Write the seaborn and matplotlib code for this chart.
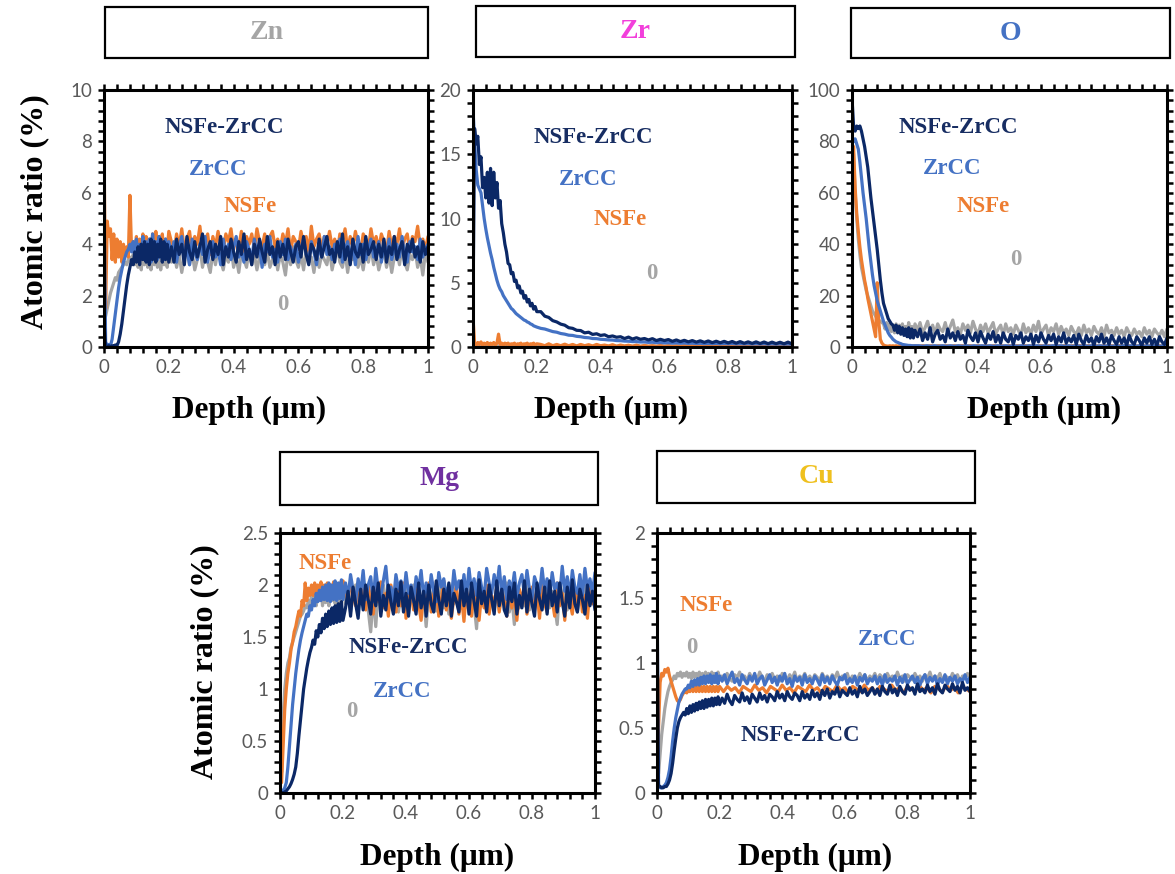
import sys
import numpy as np
import pandas as pd
import matplotlib
matplotlib.use("Agg")
import matplotlib.pyplot as plt
import seaborn as sns
from matplotlib.patches import Rectangle
from matplotlib.ticker import MultipleLocator, FuncFormatter

# ---------------- data ----------------
# near-surface depths (um), common to every series
DEPTH_NEAR = [0.000, 0.005, 0.010, 0.015, 0.020, 0.025, 0.030, 0.035, 0.040, 0.045, 0.050,
              0.055, 0.060, 0.065, 0.070, 0.075, 0.080, 0.085, 0.090, 0.095, 0.100,
              0.105, 0.110, 0.115, 0.120, 0.125, 0.130, 0.135, 0.140, 0.145, 0.150,
              0.155, 0.160, 0.165, 0.170, 0.175, 0.180, 0.185, 0.190, 0.195, 0.200]
# deeper part, sampled coarsely (smooth series) ...
DEPTH_TAIL_COARSE = [0.2125, 0.225, 0.2375, 0.250, 0.2625, 0.275, 0.2875, 0.300, 0.3125, 0.325, 0.3375, 0.350, 0.3625, 0.375, 0.3875, 0.400,
                     0.4125, 0.425, 0.4375, 0.450, 0.4625, 0.475, 0.4875, 0.500, 0.5125, 0.525, 0.5375, 0.550, 0.5625, 0.575, 0.5875, 0.600,
                     0.6125, 0.625, 0.6375, 0.650, 0.6625, 0.675, 0.6875, 0.700, 0.7125, 0.725, 0.7375, 0.750, 0.7625, 0.775, 0.7875, 0.800,
                     0.8125, 0.825, 0.8375, 0.850, 0.8625, 0.875, 0.8875, 0.900, 0.9125, 0.925, 0.9375, 0.950, 0.9625, 0.975, 0.9875, 1.000]
# ... or finely (noisy series)
DEPTH_TAIL_FINE = [0.208, 0.216, 0.224, 0.232, 0.240, 0.248, 0.256, 0.264, 0.272, 0.280, 0.288, 0.296, 0.304, 0.312, 0.320, 0.328, 0.336, 0.344, 0.352, 0.360,
                   0.368, 0.376, 0.384, 0.392, 0.400, 0.408, 0.416, 0.424, 0.432, 0.440, 0.448, 0.456, 0.464, 0.472, 0.480, 0.488, 0.496, 0.504, 0.512, 0.520,
                   0.528, 0.536, 0.544, 0.552, 0.560, 0.568, 0.576, 0.584, 0.592, 0.600, 0.608, 0.616, 0.624, 0.632, 0.640, 0.648, 0.656, 0.664, 0.672, 0.680,
                   0.688, 0.696, 0.704, 0.712, 0.720, 0.728, 0.736, 0.744, 0.752, 0.760, 0.768, 0.776, 0.784, 0.792, 0.800, 0.808, 0.816, 0.824, 0.832, 0.840,
                   0.848, 0.856, 0.864, 0.872, 0.880, 0.888, 0.896, 0.904, 0.912, 0.920, 0.928, 0.936, 0.944, 0.952, 0.960, 0.968, 0.976, 0.984, 0.992, 1.000]

SERIES = ["0", "NSFe", "ZrCC", "NSFe-ZrCC"]
ELEMENTS = ["Zn", "Zr", "O", "Mg", "Cu"]

# ---- Zn (fine tail) ----
zn_0 = [2.0, 1.2, 1.5, 1.8, 2.1, 2.3, 2.5, 2.7, 2.6, 2.9, 3.0,
        3.1, 3.2, 3.3, 3.2, 3.4, 3.5, 3.3, 3.6, 3.2, 3.5,
        3.1, 3.6, 3.0, 3.7, 3.2, 3.8, 3.1, 3.6, 3.0, 3.8,
        3.2, 3.7, 3.1, 3.9, 3.0, 3.6, 3.2, 3.8, 3.1, 3.7,
        3.3, 3.8, 3.1, 3.6, 2.9, 3.5, 3.8, 3.2, 3.7, 3.0, 3.4, 3.9, 3.1, 3.6, 3.3, 2.9, 3.7, 3.2, 3.8, 3.4,
        3.0, 3.6, 3.3, 3.9, 3.1, 3.5, 2.9, 3.7, 3.4, 3.1, 3.8, 3.2, 3.6, 3.0, 3.5, 3.9, 3.2, 3.7, 3.1, 3.4,
        3.8, 3.0, 3.6, 3.3, 2.8, 3.7, 3.2, 3.9, 3.4, 3.1, 3.6, 3.0, 3.8, 3.3, 3.5, 2.9, 3.7, 3.1, 3.6, 3.4,
        3.2, 3.8, 3.0, 3.5, 3.9, 3.3, 3.1, 3.7, 2.9, 3.6, 3.4, 3.8, 3.1, 3.5, 3.0, 3.7, 3.3, 3.9, 3.2, 3.6,
        3.0, 3.4, 3.8, 3.1, 3.6, 2.9, 3.5, 3.7, 3.2, 3.9, 3.3, 3.0, 3.6, 3.4, 3.8, 3.1, 3.5, 2.8, 3.7, 3.3]
zn_nsfe = [8.0, 1.5, 4.9, 4.3, 4.6, 3.4, 4.4, 3.3, 4.2, 3.5, 4.1,
           3.3, 4.0, 3.6, 3.9, 3.5, 5.9, 3.8, 4.1, 3.7, 4.3,
           3.6, 4.2, 3.7, 4.4, 3.6, 4.3, 3.8, 4.2, 3.6, 4.4,
           3.7, 4.5, 3.8, 4.3, 3.6, 4.4, 3.7, 4.2, 3.8, 4.5,
           4.1, 3.7, 4.4, 3.9, 4.6, 3.8, 4.2, 4.5, 3.7, 4.3, 4.0, 4.7, 3.8, 4.1, 4.4, 3.6, 4.3, 3.9, 4.5, 4.0,
           3.7, 4.4, 4.1, 4.6, 3.8, 4.2, 3.9, 4.5, 3.7, 4.3, 4.0, 4.4, 3.8, 4.6, 4.1, 3.9, 4.4, 3.7, 4.3, 4.5,
           3.9, 4.2, 3.8, 4.4, 4.0, 4.6, 3.7, 4.3, 4.1, 3.8, 4.5, 4.0, 4.3, 3.7, 4.7, 3.9, 4.2, 4.4, 3.8, 4.3,
           4.0, 4.5, 3.9, 4.2, 3.7, 4.4, 4.1, 4.6, 3.8, 4.3, 3.9, 4.5, 4.0, 3.7, 4.4, 4.2, 3.8, 4.6, 4.0, 4.3,
           3.8, 4.4, 4.1, 3.7, 4.5, 3.9, 4.3, 4.0, 4.6, 3.8, 4.2, 4.4, 3.7, 4.3, 4.1, 4.7, 3.9, 4.2, 3.8, 4.3]
zn_zrcc = [5.8, 0.2, 0.05, 0.1, 0.05, 0.3, 0.8, 1.3, 1.8, 2.3, 2.7,
           3.0, 3.3, 3.5, 3.7, 3.8, 4.0, 3.7, 4.1, 3.5, 4.2,
           3.4, 4.0, 3.5, 4.3, 3.4, 4.1, 3.5, 4.2, 3.3, 4.4,
           3.5, 4.1, 3.4, 4.3, 3.5, 4.0, 3.4, 4.2, 3.5, 4.1,
           3.6, 4.1, 3.3, 3.9, 4.3, 3.5, 3.8, 3.2, 4.2, 3.7, 3.4, 4.0, 3.6, 4.3, 3.3, 3.9, 4.1, 3.5, 3.8, 3.2,
           4.2, 3.6, 4.0, 3.4, 3.9, 4.3, 3.5, 3.7, 3.3, 4.1, 3.8, 3.4, 4.2, 3.6, 3.9, 3.1, 4.0, 3.7, 4.3, 3.5,
           3.8, 3.3, 4.1, 3.6, 4.2, 3.4, 3.9, 3.5, 4.0, 3.3, 3.8, 4.2, 3.6, 3.4, 4.1, 3.7, 3.2, 4.0, 3.5, 4.3,
           3.6, 3.9, 3.4, 4.0, 3.7, 4.2, 3.3, 3.8, 4.1, 3.5, 3.9, 3.2, 4.3, 3.6, 4.0, 3.4, 3.8, 4.2, 3.5, 3.7,
           4.1, 3.3, 3.9, 3.6, 4.2, 3.4, 3.8, 4.0, 3.5, 4.3, 3.6, 3.3, 4.1, 3.7, 3.9, 3.4, 4.2, 3.5, 3.8, 4.0]
zn_nsfe_zrcc = [1.0, 0.05, 0.02, 0.05, 0.02, 0.05, 0.03, 0.08, 0.05, 0.2, 0.5,
                0.9, 1.4, 1.9, 2.4, 2.8, 3.1, 3.4, 3.2, 3.7, 3.3,
                3.9, 3.2, 4.0, 3.4, 4.1, 3.3, 4.0, 3.2, 4.2, 3.4,
                4.1, 3.3, 4.0, 3.5, 4.2, 3.3, 4.1, 3.4, 4.0, 3.3,
                3.9, 3.3, 4.2, 3.6, 4.0, 3.2, 4.3, 3.7, 3.4, 4.1, 3.5, 3.9, 4.4, 3.3, 3.8, 4.1, 3.4, 4.0, 3.6, 4.3,
                3.2, 3.9, 3.5, 4.2, 3.7, 3.3, 4.1, 3.6, 4.4, 3.4, 3.8, 3.2, 4.0, 3.5, 4.2, 3.7, 3.3, 4.3, 3.6, 3.9,
                3.2, 4.1, 3.5, 4.0, 3.4, 4.2, 3.7, 3.3, 3.9, 4.1, 3.5, 4.3, 3.6, 3.2, 4.0, 3.8, 3.4, 4.2, 3.5, 3.9,
                4.3, 3.6, 3.8, 3.3, 4.1, 3.5, 4.4, 3.4, 3.9, 3.2, 4.2, 3.7, 3.5, 4.0, 3.3, 4.3, 3.6, 3.8, 4.1, 3.4,
                4.0, 3.5, 4.2, 3.3, 3.9, 3.6, 4.3, 3.4, 3.8, 4.1, 3.2, 4.0, 3.7, 4.2, 3.5, 3.9, 3.3, 4.1, 3.6, 3.9]

# ---- Zr (coarse tail) ----
zr_0 = [0.3, 0.1, 0.05, 0.1, 0.05, 0.1, 0.05, 0.1, 0.05, 0.1, 0.05,
        0.1, 0.05, 0.1, 0.05, 0.1, 0.05, 0.1, 0.05, 0.1, 0.05,
        0.1, 0.05, 0.1, 0.05, 0.1, 0.05, 0.1, 0.05, 0.1, 0.05,
        0.1, 0.05, 0.1, 0.05, 0.1, 0.05, 0.1, 0.05, 0.1, 0.05,
        0.1, 0.05, 0.1, 0.05, 0.1, 0.05, 0.1, 0.05, 0.1, 0.05, 0.1, 0.05, 0.1, 0.05, 0.1, 0.05,
        0.1, 0.05, 0.1, 0.05, 0.1, 0.05, 0.1, 0.05, 0.1, 0.05, 0.1, 0.05, 0.1, 0.05, 0.1, 0.05,
        0.1, 0.05, 0.1, 0.05, 0.1, 0.05, 0.1, 0.05, 0.1, 0.05, 0.1, 0.05, 0.1, 0.05, 0.1, 0.05,
        0.1, 0.05, 0.1, 0.05, 0.1, 0.05, 0.1, 0.05, 0.1, 0.05, 0.1, 0.05, 0.1, 0.05, 0.1, 0.05]
zr_nsfe = [2.3, 0.3, 0.15, 0.35, 0.2, 0.4, 0.15, 0.3, 0.2, 0.35, 0.15,
           0.3, 0.2, 0.35, 0.15, 0.3, 1.0, 0.2, 0.3, 0.15, 0.3,
           0.2, 0.3, 0.15, 0.25, 0.2, 0.3, 0.15, 0.25, 0.2, 0.3,
           0.15, 0.25, 0.2, 0.3, 0.15, 0.25, 0.2, 0.3, 0.15, 0.25,
           0.2, 0.1, 0.25, 0.1, 0.2, 0.1, 0.22, 0.1, 0.2, 0.08, 0.2, 0.1, 0.18, 0.08, 0.2, 0.1,
           0.15, 0.08, 0.18, 0.06, 0.15, 0.08, 0.14, 0.06, 0.15, 0.05, 0.12, 0.06, 0.1, 0.05, 0.12, 0.05,
           0.1, 0.05, 0.08, 0.04, 0.1, 0.05, 0.08, 0.04, 0.1, 0.05, 0.08, 0.04, 0.1, 0.05, 0.08, 0.04,
           0.1, 0.05, 0.08, 0.04, 0.1, 0.05, 0.08, 0.04, 0.1, 0.05, 0.08, 0.04, 0.1, 0.05, 0.08, 0.04]
zr_zrcc = [18.5, 16.0, 13.8, 12.6, 12.3, 12.0, 11.0, 10.0, 9.2, 8.5, 7.9,
           7.3, 6.8, 6.2, 5.7, 5.2, 4.8, 4.5, 4.3, 4.0, 3.8,
           3.6, 3.4, 3.2, 3.0, 2.9, 2.75, 2.6, 2.5, 2.4, 2.3,
           2.2, 2.1, 2.05, 1.95, 1.9, 1.8, 1.75, 1.65, 1.6, 1.55,
           1.45, 1.4, 1.3, 1.2, 1.15, 1.05, 1.0, 0.92, 0.9, 0.83, 0.8, 0.74, 0.72, 0.66, 0.65, 0.6,
           0.58, 0.55, 0.54, 0.5, 0.49, 0.46, 0.45, 0.42, 0.42, 0.39, 0.39, 0.36, 0.37, 0.34, 0.35, 0.32,
           0.33, 0.3, 0.32, 0.29, 0.31, 0.28, 0.3, 0.27, 0.29, 0.26, 0.28, 0.26, 0.28, 0.25, 0.27, 0.25,
           0.27, 0.24, 0.26, 0.24, 0.26, 0.23, 0.25, 0.23, 0.25, 0.22, 0.24, 0.22, 0.24, 0.22, 0.23, 0.21]
zr_nsfe_zrcc = [3.0, 17.0, 15.8, 16.4, 14.2, 14.8, 12.4, 13.2, 11.6, 13.6, 11.2,
                13.9, 11.0, 13.6, 11.6, 12.8, 10.8, 11.4, 9.6, 8.9, 8.0,
                7.4, 6.5, 6.4, 5.7, 5.8, 5.1, 5.2, 4.6, 4.75, 4.2,
                4.35, 3.8, 4.0, 3.5, 3.7, 3.2, 3.4, 2.95, 3.15, 2.75,
                2.75, 2.4, 2.3, 2.05, 1.95, 1.78, 1.7, 1.5, 1.45, 1.3, 1.28, 1.1, 1.15, 0.98, 1.03, 0.9,
                0.95, 0.8, 0.86, 0.76, 0.8, 0.66, 0.77, 0.62, 0.72, 0.6, 0.66, 0.55, 0.65, 0.5, 0.6, 0.5,
                0.58, 0.44, 0.55, 0.42, 0.52, 0.4, 0.5, 0.38, 0.48, 0.36, 0.47, 0.34, 0.45, 0.33, 0.44, 0.32,
                0.43, 0.3, 0.42, 0.29, 0.4, 0.28, 0.4, 0.27, 0.39, 0.26, 0.38, 0.26, 0.37, 0.25, 0.38, 0.24]

# ---- O ----
o_0 = [80, 75, 60, 50, 42, 36, 31, 28, 25, 22, 20,
       18, 16, 14, 13, 12, 11, 10.5, 10, 9.5, 9,
       7, 9.5, 6.5, 9, 6, 8.5, 5.5, 9, 6, 8.5,
       5, 9, 6, 8, 5.5, 9.5, 6, 8, 5, 9,
       6.5, 9.5, 5.5, 7.5, 10, 6, 8.5, 5, 9, 7, 6, 9.5, 5.5, 8, 10.5, 6, 7.5, 5, 9, 6.5,
       8.5, 5.5, 10, 7, 5, 8.5, 6, 9, 5.5, 7.5, 9.5, 5, 7, 8.5, 4.5, 9, 6, 7.5, 5, 8.5,
       6.5, 4.5, 9, 5.5, 7.5, 5, 8.5, 6, 10, 5, 7, 8.5, 4.5, 7.5, 6, 9, 5, 8, 5.5, 7,
       4.5, 8, 6, 5, 7.5, 4.5, 8.5, 5.5, 7, 4.5, 8, 6, 5, 7.5, 4, 8.5, 5.5, 6.5, 4.5, 7.5,
       5, 6.5, 4, 7.5, 5.5, 4.5, 7, 5, 6, 4, 7.5, 5, 6.5, 4, 7, 5.5, 4.5, 6.5, 4, 7]
o_nsfe = [65, 78, 62, 52, 45, 39, 34, 30, 26, 23, 19,
          16, 13, 10, 7, 4, 25, 10, 3, 1.5, 0.8,
          0.5, 0.4, 0.3, 0.5, 0.3, 0.5, 0.3, 0.5, 0.3, 0.5,
          0.3, 0.5, 0.3, 0.5, 0.3, 0.5, 0.3, 0.5, 0.3, 0.5,
          0.3, 0.5, 0.3, 0.5, 0.3, 0.5, 0.3, 0.5, 0.3, 0.5, 0.3, 0.5, 0.3, 0.5, 0.3, 0.5,
          0.3, 0.5, 0.3, 0.5, 0.3, 0.5, 0.3, 0.5, 0.3, 0.5, 0.3, 0.5, 0.3, 0.5, 0.3, 0.5,
          0.3, 0.5, 0.3, 0.5, 0.3, 0.5, 0.3, 0.5, 0.3, 0.5, 0.3, 0.5, 0.3, 0.5, 0.3, 0.5,
          0.3, 0.5, 0.3, 0.5, 0.3, 0.5, 0.3, 0.5, 0.3, 0.5, 0.3, 0.5, 0.3, 0.5, 0.3, 0.5]
o_zrcc = [82, 80, 81, 79, 77, 72, 66, 60, 55, 50, 44,
          38, 33, 28, 24, 21, 18, 16, 14, 12, 10,
          8.5, 7, 5.5, 4.5, 3.8, 3, 2.5, 2, 1.8, 1.5,
          1.3, 1, 0.9, 0.8, 0.7, 0.6, 0.6, 0.5, 0.5, 0.5,
          0.5, 0.3, 0.5, 0.3, 0.5, 0.3, 0.5, 0.3, 0.5, 0.3, 0.5, 0.3, 0.5, 0.3, 0.5, 0.3,
          0.5, 0.3, 0.5, 0.3, 0.5, 0.3, 0.5, 0.3, 0.5, 0.3, 0.5, 0.3, 0.5, 0.3, 0.5, 0.3,
          0.5, 0.3, 0.5, 0.3, 0.5, 0.3, 0.5, 0.3, 0.5, 0.3, 0.5, 0.3, 0.5, 0.3, 0.5, 0.3,
          0.5, 0.3, 0.5, 0.3, 0.5, 0.3, 0.5, 0.3, 0.5, 0.3, 0.5, 0.3, 0.5, 0.3, 0.5, 0.3]
o_nsfe_zrcc = [97, 86, 84, 86, 85, 86, 84, 81, 78, 74, 70,
               64, 58, 53, 48, 43, 38, 32, 26, 21, 17,
               15, 13, 11, 10, 9, 8.5, 6.5, 8.5, 5.5, 8,
               5, 7.5, 4.5, 7, 4, 7.5, 3.5, 7, 3.5, 6.5,
               4, 7, 2.5, 5.5, 3, 7.5, 2, 5, 6.5, 3, 4.5, 2, 7, 3.5, 5.5, 2.5, 6, 3, 4.5, 1.5,
               6.5, 4, 2.5, 5.5, 2, 6, 3.5, 1.5, 5, 3, 6, 2, 4.5, 1.5, 5.5, 3, 2, 5, 1, 4.5,
               3, 5.5, 1.5, 4, 2.5, 5, 1, 4.5, 2, 5.5, 3, 1.5, 4.5, 2.5, 5, 1, 4, 2, 5.5, 1.5,
               3.5, 2, 4.5, 1, 5, 2.5, 1, 4.5, 2, 3.5, 0.5, 4, 2, 5, 1.5, 3.5, 1, 4.5, 2.5, 1,
               4, 1.5, 3.5, 0.5, 4.5, 2, 1, 4, 2.5, 0.5, 3.5, 1.5, 4, 1, 3, 0.5, 4, 2, 1, 3.5]

# ---- Mg (fine tail) ----
mg_0 = [1.2, 0.2, 0.7, 1.0, 1.15, 1.25, 1.3, 1.4, 1.45, 1.5, 1.55,
        1.6, 1.65, 1.7, 1.72, 1.75, 1.8, 1.78, 1.85, 1.8, 1.9,
        1.82, 1.95, 1.8, 1.92, 1.85, 1.98, 1.8, 1.95, 1.83, 2.0,
        1.8, 1.95, 1.85, 2.0, 1.82, 1.95, 1.8, 2.0, 1.85, 1.95,
        1.82, 1.96, 1.74, 1.9, 2.0, 1.78, 1.92, 1.84, 1.98, 1.76, 1.55, 1.9, 1.6, 1.96, 1.8, 2.0, 1.84, 1.74, 1.95, 1.8,
        2.02, 1.74, 1.9, 1.78, 1.98, 1.72, 1.88, 2.0, 1.8, 1.94, 1.76, 1.9, 1.6, 1.92, 1.84, 1.98, 1.75, 1.9, 2.02, 1.78,
        1.94, 1.72, 1.96, 1.82, 1.9, 1.76, 2.0, 1.8, 1.86, 1.74, 1.98, 1.82, 1.58, 1.96, 1.8, 1.92, 1.74, 1.98, 1.84, 1.76,
        1.96, 1.76, 1.9, 1.84, 2.02, 1.74, 1.88, 1.62, 1.96, 1.78, 1.92, 1.8, 2.0, 1.76, 1.94, 1.82, 1.98, 1.74, 1.9, 1.84,
        2.0, 1.78, 1.94, 1.8, 1.62, 1.96, 1.82, 2.02, 1.76, 1.92, 1.84, 1.98, 1.74, 1.9, 1.8, 2.0, 1.76, 1.94, 1.82, 1.98]
mg_nsfe = [1.0, 0.1, 0.45, 0.8, 1.0, 1.15, 1.25, 1.38, 1.45, 1.55, 1.6,
           1.68, 1.75, 1.7, 1.85, 1.8, 2.02, 1.85, 1.97, 1.9, 2.0,
           1.9, 2.02, 1.92, 2.0, 1.9, 2.03, 1.92, 2.0, 1.88, 2.02,
           1.9, 2.0, 1.92, 2.03, 1.9, 2.0, 1.88, 2.02, 1.9, 2.04,
           1.96, 1.84, 2.04, 1.9, 1.8, 2.02, 1.86, 1.98, 1.76, 2.0, 1.88, 1.72, 1.98, 1.84, 2.03, 1.78, 1.92, 1.7, 2.0, 1.84,
           1.74, 1.98, 1.8, 2.02, 1.68, 1.9, 1.96, 1.76, 2.0, 1.82, 1.66, 1.95, 1.8, 2.02, 1.74, 1.92, 1.98, 1.7, 1.86, 2.04,
           1.76, 1.94, 1.68, 1.88, 2.0, 1.72, 1.9, 1.65, 1.96, 1.8, 1.7, 1.98, 1.84, 1.66, 1.92, 1.78, 2.0, 1.72, 1.9, 1.8,
           1.98, 1.74, 1.94, 1.85, 1.7, 2.0, 1.78, 1.92, 1.66, 1.96, 1.82, 2.02, 1.72, 1.88, 1.98, 1.76, 1.94, 1.68, 2.0, 1.82,
           1.74, 1.96, 1.86, 1.7, 2.02, 1.8, 1.92, 1.66, 1.98, 1.84, 1.72, 1.96, 1.8, 2.0, 1.74, 1.9, 1.68, 1.98, 1.82, 1.94]
mg_zrcc = [0.05, 0.02, 0.02, 0.05, 0.1, 0.25, 0.45, 0.65, 0.85, 1.0, 1.15,
           1.27, 1.38, 1.47, 1.54, 1.6, 1.66, 1.72, 1.7, 1.8, 1.76,
           1.86, 1.8, 1.92, 1.84, 1.95, 1.85, 1.98, 1.86, 2.0, 1.85,
           2.02, 1.84, 2.0, 1.86, 2.04, 1.85, 2.02, 1.87, 2.05, 1.86,
           2.02, 1.88, 2.1, 1.95, 1.84, 2.06, 1.92, 2.14, 1.86, 2.0, 2.08, 1.84, 2.16, 1.94, 1.88, 2.04, 2.18, 1.9, 1.98, 1.84,
           2.1, 1.96, 2.04, 1.86, 2.12, 1.92, 2.0, 1.84, 2.08, 1.96, 2.14, 1.88, 2.02, 1.86, 2.1, 1.94, 1.84, 2.12, 1.98, 2.06,
           1.88, 2.0, 1.86, 2.14, 1.96, 2.04, 1.9, 2.1, 1.88, 2.16, 1.94, 2.06, 1.9, 2.12, 1.98, 1.88, 2.16, 2.02, 1.92, 2.1,
           1.96, 2.18, 1.9, 2.08, 1.86, 2.04, 1.94, 2.12, 1.88, 2.02, 2.1, 1.9, 2.14, 1.96, 1.86, 2.08, 2.0, 1.92, 2.16, 1.94,
           2.06, 1.88, 2.12, 1.96, 2.02, 1.9, 2.18, 1.94, 2.08, 1.88, 2.14, 1.98, 1.92, 2.1, 1.9, 2.16, 1.96, 2.06, 1.92, 2.12]
mg_nsfe_zrcc = [0.02, 0.0, 0.0, 0.01, 0.02, 0.04, 0.06, 0.09, 0.13, 0.18, 0.25,
                0.38, 0.55, 0.7, 0.85, 1.0, 1.1, 1.2, 1.28, 1.35, 1.4,
                1.47, 1.43, 1.56, 1.5, 1.62, 1.54, 1.68, 1.58, 1.72, 1.6,
                1.75, 1.62, 1.78, 1.63, 1.8, 1.64, 1.82, 1.65, 1.84, 1.66,
                1.78, 1.94, 1.7, 1.98, 1.82, 1.68, 1.96, 1.76, 2.0, 1.86, 1.72, 1.98, 1.8, 2.02, 1.7, 1.9, 1.76, 2.0, 1.84, 1.72,
                1.96, 1.8, 2.03, 1.74, 1.92, 1.7, 1.98, 1.86, 1.72, 2.02, 1.78, 1.94, 1.7, 2.0, 1.82, 1.74, 2.04, 1.86, 1.72, 1.96,
                1.8, 2.02, 1.7, 1.92, 1.84, 1.74, 2.04, 1.8, 1.96, 1.72, 2.02, 1.84, 1.7, 2.05, 1.82, 1.94, 1.74, 2.0, 1.86, 1.72,
                2.04, 1.8, 1.96, 1.76, 1.7, 1.98, 1.84, 2.02, 1.72, 1.9, 1.78, 2.04, 1.74, 1.96, 1.82, 1.7, 2.02, 1.86, 1.76, 1.98,
                1.72, 2.04, 1.8, 1.94, 1.74, 2.02, 1.84, 1.7, 1.98, 1.78, 2.05, 1.82, 1.74, 1.96, 1.86, 1.72, 2.0, 1.8, 1.94, 1.76]

# ---- Cu ----
cu_0 = [0.1, 0.15, 0.3, 0.45, 0.55, 0.65, 0.72, 0.78, 0.82, 0.85, 0.87,
        0.9, 0.88, 0.92, 0.9, 0.93, 0.89, 0.92, 0.9, 0.93, 0.89,
        0.92, 0.88, 0.93, 0.89, 0.92, 0.88, 0.93, 0.89, 0.92, 0.88,
        0.93, 0.89, 0.92, 0.88, 0.93, 0.89, 0.92, 0.88, 0.93, 0.89,
        0.9, 0.87, 0.92, 0.88, 0.86, 0.91, 0.89, 0.93, 0.87, 0.9, 0.86, 0.92, 0.88, 0.91, 0.87, 0.93, 0.89, 0.86, 0.91, 0.88,
        0.92, 0.87, 0.9, 0.86, 0.92, 0.89, 0.87, 0.91, 0.88, 0.93, 0.86, 0.9, 0.88, 0.92, 0.87, 0.9, 0.86, 0.91, 0.89, 0.87,
        0.92, 0.88, 0.9, 0.86, 0.91, 0.88, 0.93, 0.87, 0.9, 0.88, 0.92, 0.86, 0.9, 0.89, 0.87, 0.92, 0.88, 0.91, 0.86, 0.9,
        0.88, 0.92, 0.87, 0.91, 0.89, 0.86, 0.92, 0.88, 0.9, 0.87, 0.93, 0.88, 0.9, 0.86, 0.91, 0.89, 0.87, 0.92, 0.88, 0.9,
        0.86, 0.91, 0.88, 0.93, 0.87, 0.9, 0.88, 0.92, 0.86, 0.9, 0.89, 0.87, 0.92, 0.88, 0.91, 0.86, 0.9, 0.88, 0.92, 0.89]
cu_nsfe = [0.15, 0.5, 0.85, 0.92, 0.9, 0.95, 0.93, 0.96, 0.9, 0.86, 0.82,
           0.78, 0.74, 0.71, 0.7, 0.72, 0.75, 0.77, 0.78, 0.77, 0.8,
           0.78, 0.82, 0.78, 0.82, 0.78, 0.82, 0.78, 0.82, 0.78, 0.82,
           0.78, 0.82, 0.78, 0.82, 0.78, 0.82, 0.78, 0.82, 0.78, 0.82,
           0.78, 0.82, 0.79, 0.81, 0.77, 0.82, 0.8, 0.78, 0.83, 0.79, 0.81, 0.77, 0.82, 0.8, 0.78, 0.83,
           0.79, 0.81, 0.77, 0.82, 0.8, 0.78, 0.83, 0.79, 0.81, 0.77, 0.82, 0.8, 0.78, 0.83, 0.79, 0.81,
           0.77, 0.82, 0.8, 0.78, 0.83, 0.79, 0.81, 0.77, 0.82, 0.8, 0.78, 0.83, 0.79, 0.81, 0.77, 0.82,
           0.8, 0.78, 0.83, 0.79, 0.81, 0.77, 0.82, 0.8, 0.78, 0.83, 0.79, 0.81, 0.77, 0.82, 0.8, 0.78]
cu_zrcc = [0.1, 0.05, 0.04, 0.04, 0.05, 0.06, 0.08, 0.12, 0.18, 0.28, 0.4,
           0.5, 0.58, 0.64, 0.7, 0.73, 0.76, 0.78, 0.8, 0.8, 0.83,
           0.81, 0.86, 0.82, 0.87, 0.83, 0.88, 0.83, 0.89, 0.84, 0.9,
           0.84, 0.9, 0.85, 0.91, 0.84, 0.9, 0.85, 0.92, 0.84, 0.9,
           0.86, 0.91, 0.84, 0.89, 0.93, 0.85, 0.88, 0.83, 0.91, 0.87, 0.84, 0.9, 0.86, 0.92, 0.84, 0.88, 0.9, 0.83, 0.87, 0.91,
           0.85, 0.89, 0.83, 0.9, 0.86, 0.92, 0.84, 0.88, 0.82, 0.9, 0.86, 0.89, 0.83, 0.91, 0.85, 0.88, 0.84, 0.9, 0.87, 0.83,
           0.91, 0.85, 0.89, 0.84, 0.9, 0.86, 0.83, 0.89, 0.87, 0.91, 0.84, 0.88, 0.85, 0.9, 0.83, 0.89, 0.86, 0.91, 0.84, 0.88,
           0.86, 0.9, 0.84, 0.89, 0.83, 0.91, 0.85, 0.88, 0.86, 0.9, 0.83, 0.89, 0.85, 0.91, 0.84, 0.87, 0.9, 0.85, 0.89, 0.83,
           0.88, 0.91, 0.84, 0.89, 0.86, 0.9, 0.83, 0.88, 0.85, 0.91, 0.84, 0.89, 0.86, 0.9, 0.84, 0.88, 0.86, 0.91, 0.85, 0.89]
cu_nsfe_zrcc = [1.6, 0.06, 0.05, 0.04, 0.04, 0.05, 0.05, 0.07, 0.1, 0.15, 0.23,
                0.33, 0.42, 0.5, 0.55, 0.58, 0.6, 0.62, 0.6, 0.65, 0.61,
                0.67, 0.62, 0.68, 0.63, 0.69, 0.64, 0.7, 0.65, 0.71, 0.65,
                0.72, 0.66, 0.72, 0.67, 0.73, 0.67, 0.73, 0.68, 0.74, 0.68,
                0.73, 0.69, 0.76, 0.71, 0.68, 0.75, 0.72, 0.7, 0.77, 0.71, 0.74, 0.69, 0.76, 0.73, 0.7, 0.77, 0.72, 0.75, 0.7, 0.76,
                0.74, 0.71, 0.78, 0.73, 0.76, 0.71, 0.78, 0.74, 0.72, 0.77, 0.75, 0.71, 0.78, 0.73, 0.76, 0.72, 0.79, 0.74, 0.77, 0.72,
                0.79, 0.75, 0.8, 0.73, 0.78, 0.76, 0.81, 0.74, 0.79, 0.77, 0.75, 0.81, 0.76, 0.79, 0.74, 0.82, 0.77, 0.8, 0.75, 0.78,
                0.81, 0.76, 0.8, 0.75, 0.82, 0.78, 0.76, 0.83, 0.77, 0.8, 0.75, 0.82, 0.78, 0.76, 0.83, 0.79, 0.81, 0.76, 0.84, 0.78,
                0.8, 0.77, 0.83, 0.78, 0.81, 0.76, 0.84, 0.79, 0.77, 0.83, 0.8, 0.78, 0.84, 0.79, 0.82, 0.77, 0.85, 0.79, 0.81, 0.78]

PANEL_DATA = {
    "Zn": [zn_0, zn_nsfe, zn_zrcc, zn_nsfe_zrcc],
    "Zr": [zr_0, zr_nsfe, zr_zrcc, zr_nsfe_zrcc],
    "O": [o_0, o_nsfe, o_zrcc, o_nsfe_zrcc],
    "Mg": [mg_0, mg_nsfe, mg_zrcc, mg_nsfe_zrcc],
    "Cu": [cu_0, cu_nsfe, cu_zrcc, cu_nsfe_zrcc],
}
Y_MAX = {"Zn": 10, "Zr": 20, "O": 100, "Mg": 2.5, "Cu": 2}
Y_STEP = {"Zn": 2, "Zr": 5, "O": 20, "Mg": 0.5, "Cu": 0.5}

# label positions (data coords) for the in-plot series names
LABEL_POS = {
    "Zn": {"NSFe-ZrCC": (0.37, 8.56), "ZrCC": (0.352, 6.89), "NSFe": (0.45, 5.45), "0": (0.553, 1.65)},
    "Zr": {"NSFe-ZrCC": (0.376, 16.3), "ZrCC": (0.36, 13.0), "NSFe": (0.46, 9.9), "0": (0.56, 5.75)},
    "O": {"NSFe-ZrCC": (0.337, 85.6), "ZrCC": (0.317, 69.6), "NSFe": (0.416, 54.5), "0": (0.52, 33.9)},
    "Mg": {"NSFe": (0.143, 2.21), "NSFe-ZrCC": (0.407, 1.40), "ZrCC": (0.387, 0.98), "0": (0.228, 0.78)},
    "Cu": {"NSFe": (0.157, 1.44), "0": (0.11, 1.12), "ZrCC": (0.735, 1.18), "NSFe-ZrCC": (0.457, 0.44)},
}

# ---------------- styling ----------------
LINE_COLORS = {"0": "#A5A5A5", "NSFe": "#ED7D31", "ZrCC": "#4472C4", "NSFe-ZrCC": "#0B2866"}
TEXT_COLORS = {"0": "#A5A5A5", "NSFe": "#ED7D31", "ZrCC": "#4472C4", "NSFe-ZrCC": "#172D62"}
TITLE_COLORS = {"Zn": "#A5A5A5", "Zr": "#F23FDB", "O": "#4472C4", "Mg": "#7030A0", "Cu": "#EFC01E"}

W, H = 1175, 874
def fx(px):
    return px / W
def fy(py):
    return 1 - py / H

AX_PX = {"Zn": (104, 90, 428, 347), "Zr": (473, 90, 792, 347), "O": (852, 90, 1167, 347),
         "Mg": (280, 533, 595, 793), "Cu": (657, 533, 970, 793)}
BOX_PX = {"Zn": (105, 7, 428, 58), "Zr": (476, 6, 795, 57), "O": (851, 8, 1170, 58),
          "Mg": (280, 452, 598, 505), "Cu": (657, 451, 975, 503)}
XLABEL_PX = {"Zn": (249, 410), "Zr": (611, 410), "O": (1044, 410), "Mg": (437, 857), "Cu": (815, 857)}
YLABEL_PX = {"Zn": (35, 212), "Mg": (205, 662)}

def depth_for(vals):
    for tail in (DEPTH_TAIL_FINE, DEPTH_TAIL_COARSE):
        if len(vals) == len(DEPTH_NEAR) + len(tail):
            return DEPTH_NEAR + tail
    print(f"warning: series with {len(vals)} values", file=sys.stderr)
    d = DEPTH_NEAR + DEPTH_TAIL_FINE if len(vals) > 120 else DEPTH_NEAR + DEPTH_TAIL_COARSE
    return d

sns.set_theme(style="white")
plt.rcParams["font.family"] = ["Lato", "DejaVu Sans"]
SERIF = ["Liberation Serif", "DejaVu Serif"]

fig = plt.figure(figsize=(W / 100, H / 100), dpi=100)
fig.patch.set_facecolor("white")

for el in ELEMENTS:
    l, t, r, b = AX_PX[el]
    ax = fig.add_axes([fx(l), fy(b), fx(r) - fx(l), (b - t) / H])
    rows = []
    for name, vals in zip(SERIES, PANEL_DATA[el]):
        d = depth_for(vals)
        n = min(len(d), len(vals))
        rows.append(pd.DataFrame({"depth": d[:n], "ratio": vals[:n], "series": name}))
    df = pd.concat(rows, ignore_index=True)
    sns.lineplot(data=df, x="depth", y="ratio", hue="series", hue_order=SERIES,
                 palette=LINE_COLORS, estimator=None, sort=False, linewidth=2.3,
                 legend=False, ax=ax)
    ax.set_xlim(0, 1)
    ax.set_ylim(0, Y_MAX[el])
    ax.set_xlabel("")
    ax.set_ylabel("")
    ax.xaxis.set_major_locator(MultipleLocator(0.2))
    ax.xaxis.set_minor_locator(MultipleLocator(0.04))
    ax.yaxis.set_major_locator(MultipleLocator(Y_STEP[el]))
    ax.yaxis.set_minor_locator(MultipleLocator(Y_STEP[el] / 5))
    fmt = FuncFormatter(lambda v, p: f"{v:g}")
    ax.xaxis.set_major_formatter(fmt)
    ax.yaxis.set_major_formatter(fmt)
    ax.tick_params(which="both", direction="out", length=4.5, width=1.8, color="black",
                   top=True, right=True, bottom=True, left=True)
    ax.tick_params(which="major", labelsize=13.5, labelcolor="#595959", pad=4)
    for sp in ax.spines.values():
        sp.set_visible(True)
        sp.set_linewidth(2.2)
        sp.set_color("black")
    ax.grid(False)
    for name, (xx, yy) in LABEL_POS[el].items():
        ax.text(xx, yy, name, color=TEXT_COLORS[name], fontsize=16.5, fontweight="bold",
                family=SERIF, ha="center", va="center")
    bl, bt, br, bb = BOX_PX[el]
    fig.add_artist(Rectangle((fx(bl), fy(bb)), fx(br) - fx(bl), (bb - bt) / H,
                             transform=fig.transFigure, fill=False, lw=1.6, ec="black"))
    fig.text(fx((bl + br) / 2), fy((bt + bb) / 2), el, color=TITLE_COLORS[el], fontsize=20,
             fontweight="bold", family=SERIF, ha="center", va="center")
    xlx, xly = XLABEL_PX[el]
    fig.text(fx(xlx), fy(xly), "Depth (μm)", fontsize=22.5, fontweight="bold", family=SERIF,
             ha="center", va="center", color="black")
    if el in YLABEL_PX:
        ylx, yly = YLABEL_PX[el]
        fig.text(fx(ylx), fy(yly), "Atomic ratio (%)", fontsize=23, fontweight="bold",
                 family=SERIF, ha="center", va="center", rotation=90, color="black")

fig.savefig("out.png", dpi=100, facecolor="white")
